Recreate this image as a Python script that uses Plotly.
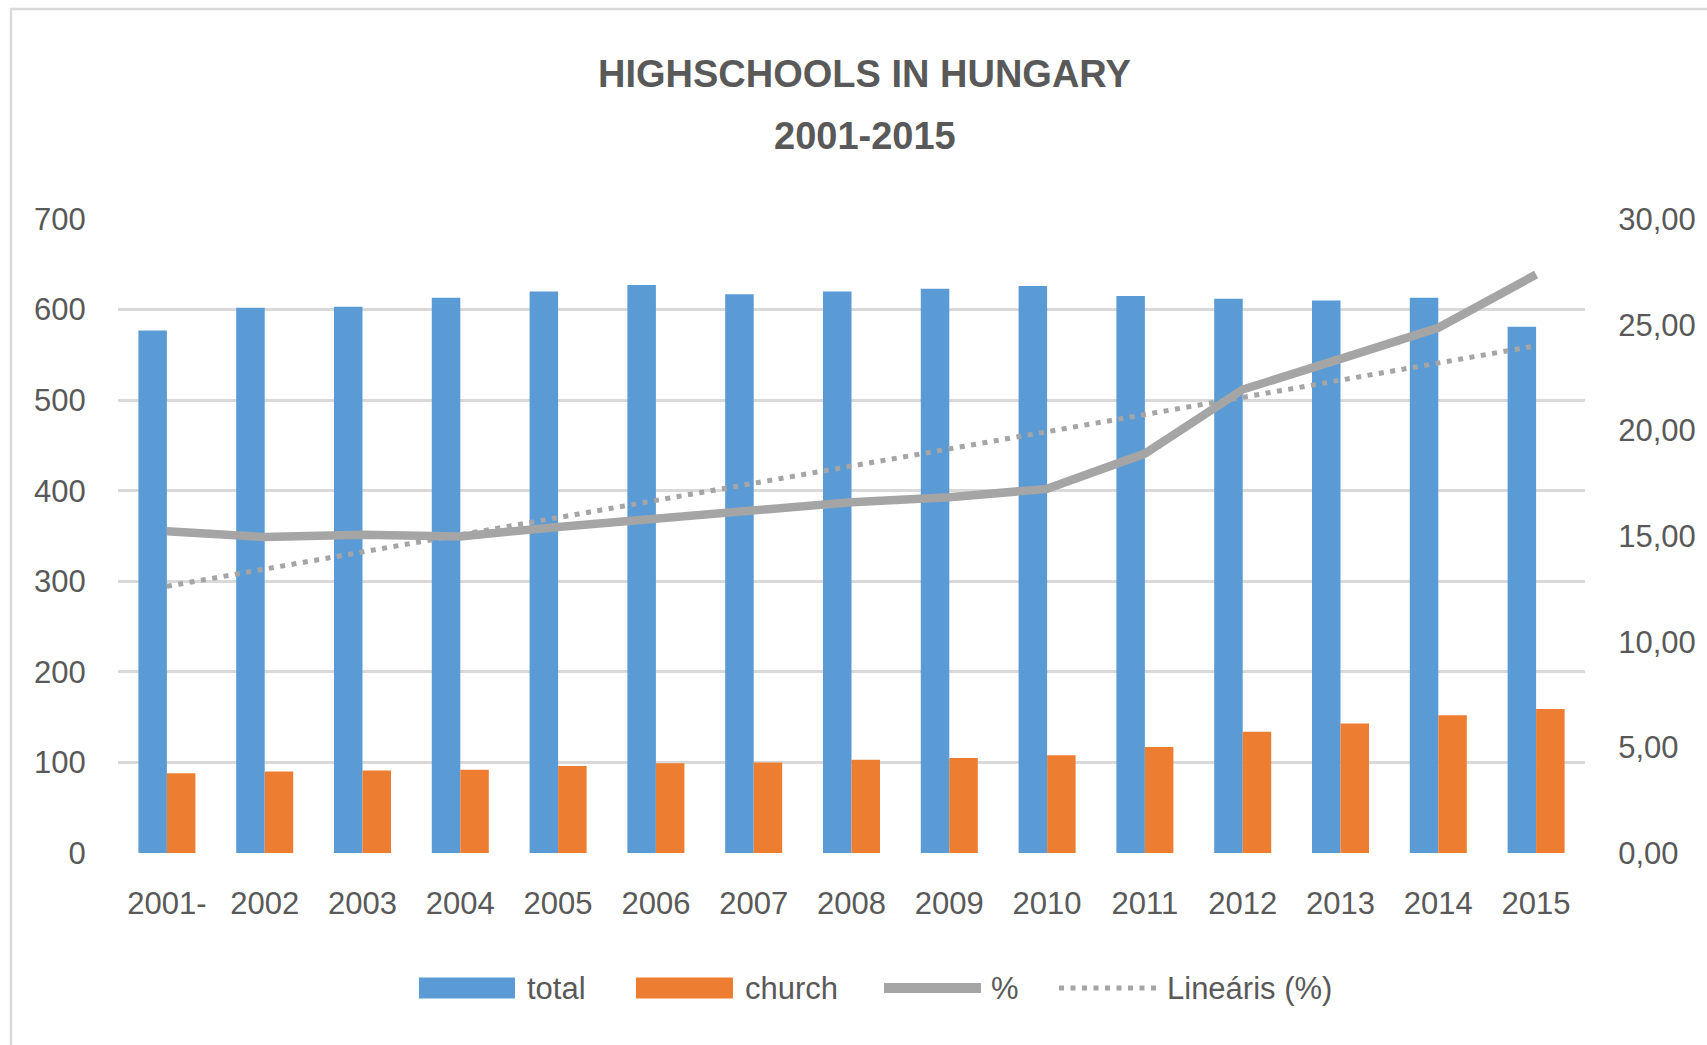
import plotly.graph_objects as go

years = ["2001-", "2002", "2003", "2004", "2005", "2006", "2007", "2008",
         "2009", "2010", "2011", "2012", "2013", "2014", "2015"]
total = [577, 602, 603, 613, 620, 627, 617, 620, 623, 626, 615, 612, 610, 613, 581]
church = [88, 90, 91, 92, 96, 99, 100, 103, 105, 108, 117, 134, 143, 152, 159]
percent = [15.22, 14.95, 15.06, 14.98, 15.43, 15.80, 16.17, 16.60, 16.83, 17.23,
           18.90, 21.93, 23.38, 24.85, 27.37]
trend_years = ["2001-", "2015"]
trend_values = [12.62, 24.00]

left_ticks = [0, 100, 200, 300, 400, 500, 600, 700]
right_ticks = [0, 5, 10, 15, 20, 25, 30]

W, H = 1707, 1045
L, R, T, B = 118, 1585, 219, 853

def px(x):
    return (x - L) / (R - L)

def py(y):
    return (B - y) / (B - T)

BLUE = "#5b9bd5"
ORANGE = "#ed7d31"
GRAY = "#a5a5a5"
TXT = "#595959"
GRID = "#d9d9d9"
FONT = "Liberation Sans, Arial, sans-serif"
TITLE_FONT = "Liberation Sans, Arial, sans-serif"

fig = go.Figure()
fig.add_trace(go.Bar(x=years, y=total, name="total", marker=dict(color=BLUE, line=dict(width=0))))
fig.add_trace(go.Bar(x=years, y=church, name="church", marker=dict(color=ORANGE, line=dict(width=0))))
fig.add_trace(go.Scatter(x=years, y=percent, name="%", mode="lines", yaxis="y2",
                         line=dict(color=GRAY, width=8.5)))
fig.add_trace(go.Scatter(x=trend_years, y=trend_values, name="Lineáris (%)", mode="lines", yaxis="y2",
                         line=dict(color=GRAY, width=5, dash="5px,6.5px")))

shapes = []
# outer border
shapes.append(dict(type="rect", xref="paper", yref="paper",
                   x0=px(11), x1=px(1740), y0=py(1080), y1=py(9),
                   line=dict(color=GRID, width=2.5), fillcolor="rgba(0,0,0,0)", layer="below"))

# manual legend
ly = 988
shapes.append(dict(type="rect", xref="paper", yref="paper", x0=px(419), x1=px(515),
                   y0=py(ly + 10.5), y1=py(ly - 10.5), fillcolor=BLUE, line=dict(width=0)))
shapes.append(dict(type="rect", xref="paper", yref="paper", x0=px(636), x1=px(733),
                   y0=py(ly + 10.5), y1=py(ly - 10.5), fillcolor=ORANGE, line=dict(width=0)))
shapes.append(dict(type="line", xref="paper", yref="paper", x0=px(884), x1=px(981),
                   y0=py(ly), y1=py(ly), line=dict(color=GRAY, width=10)))
shapes.append(dict(type="line", xref="paper", yref="paper", x0=px(1059), x1=px(1159),
                   y0=py(ly), y1=py(ly), line=dict(color=GRAY, width=5, dash="5px,6.5px")))

annotations = [
    dict(text="<b>HIGHSCHOOLS IN HUNGARY</b>", xref="paper", yref="paper", x=px(865), y=py(74),
         xanchor="center", yanchor="middle", showarrow=False,
         font=dict(family=TITLE_FONT, size=38, color=TXT)),
    dict(text="<b>2001-2015</b>", xref="paper", yref="paper", x=px(865), y=py(136),
         xanchor="center", yanchor="middle", showarrow=False,
         font=dict(family=TITLE_FONT, size=38, color=TXT)),
]
for label, xl in [("total", 525), ("church", 743), ("%", 989), ("Lineáris (%)", 1165)]:
    annotations.append(dict(text=label, xref="paper", yref="paper", x=px(xl), y=py(ly),
                            xanchor="left", yanchor="middle", showarrow=False,
                            font=dict(family=FONT, size=31, color=TXT)))

fig.update_layout(
    width=W, height=H,
    margin=dict(l=L, r=W - R, t=T, b=H - B, pad=0, autoexpand=False),
    paper_bgcolor="white", plot_bgcolor="white",
    separators=", ",
    barmode="group", bargap=0.417, bargroupgap=0,
    showlegend=False,
    font=dict(family=FONT, size=31, color=TXT),
    xaxis=dict(type="category", showgrid=False, showline=False, zeroline=False, automargin=False,
               ticks="outside", ticklen=23, tickcolor="rgba(0,0,0,0)",
               tickfont=dict(family=FONT, size=31, color=TXT)),
    yaxis=dict(range=[0, 700], tickvals=left_ticks, showgrid=True, gridcolor=GRID, gridwidth=2.5,
               zeroline=False, showline=False, ticks="outside", ticklen=25, automargin=False,
               tickcolor="rgba(0,0,0,0)", tickfont=dict(family=FONT, size=31, color=TXT)),
    yaxis2=dict(range=[0, 30], tickvals=right_ticks, tickformat=".2f", overlaying="y", side="right",
                showgrid=False, zeroline=False, showline=False, ticks="outside", ticklen=26,
                automargin=False,
                tickcolor="rgba(0,0,0,0)", tickfont=dict(family=FONT, size=31, color=TXT)),
    shapes=shapes,
    annotations=annotations,
)

fig.write_html("out.html", config={"displayModeBar": False},
               post_script="document.body.style.margin='0';document.body.style.overflow='hidden';")
